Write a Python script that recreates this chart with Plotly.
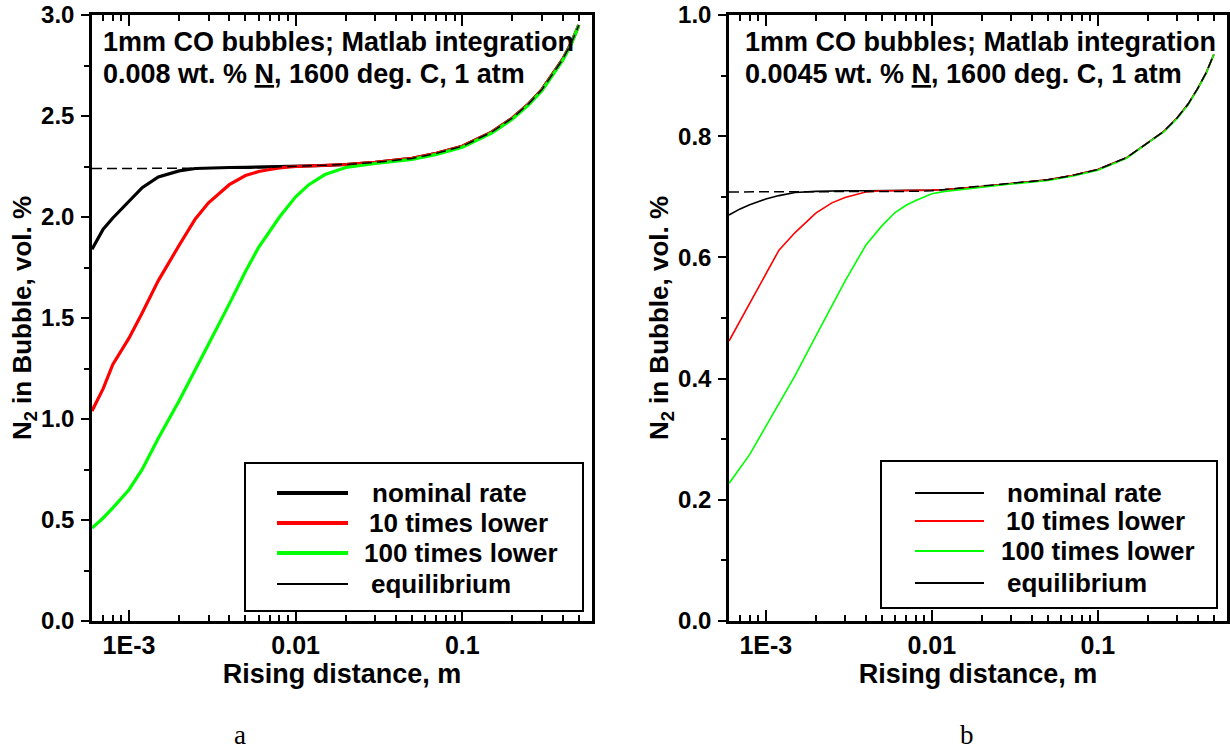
import math
import plotly.graph_objects as go

# ---------------- data ----------------
x_dist = [6e-4, 7e-4, 8e-4, 1e-3, 1.2e-3, 1.5e-3, 2e-3, 2.5e-3, 3e-3, 4e-3, 5e-3, 6e-3, 7e-3, 8e-3,
          0.01, 0.012, 0.015, 0.02, 0.03, 0.05, 0.07, 0.1, 0.15, 0.2, 0.25, 0.3, 0.35, 0.4, 0.45, 0.5]

# panel a: 0.008 wt.% N
nominal_a = [1.84, 1.94, 1.995, 2.08, 2.145, 2.198, 2.228, 2.24, 2.243, 2.245, 2.246, 2.247, 2.248, 2.249,
             2.25, 2.252, 2.255, 2.26, 2.27, 2.29, 2.315, 2.35, 2.42, 2.49, 2.56, 2.63, 2.71, 2.78, 2.86, 2.95]
ten_a = [1.04, 1.15, 1.27, 1.40, 1.525, 1.685, 1.86, 1.99, 2.07, 2.16, 2.205, 2.225, 2.235, 2.243,
         2.25, 2.252, 2.255, 2.26, 2.27, 2.29, 2.315, 2.35, 2.42, 2.49, 2.56, 2.63, 2.71, 2.78, 2.86, 2.95]
hundred_a = [0.46, 0.51, 0.56, 0.65, 0.75, 0.905, 1.09, 1.24, 1.37, 1.57, 1.73, 1.85, 1.93, 2.0,
             2.10, 2.16, 2.21, 2.245, 2.265, 2.285, 2.31, 2.345, 2.415, 2.485, 2.555, 2.625, 2.705, 2.775, 2.855, 2.95]
equil_a = [2.24, 2.24, 2.24, 2.24, 2.24, 2.24, 2.24, 2.24, 2.24, 2.24, 2.242, 2.244, 2.246, 2.248,
           2.25, 2.252, 2.255, 2.26, 2.27, 2.29, 2.315, 2.35, 2.42, 2.49, 2.56, 2.63, 2.71, 2.78, 2.86, 2.95]

# panel b: 0.0045 wt.% N
nominal_b = [0.670, 0.680, 0.687, 0.6965, 0.702, 0.707, 0.709, 0.71, 0.71, 0.71, 0.71, 0.71, 0.71, 0.71,
             0.711, 0.712, 0.714, 0.717, 0.722, 0.728, 0.735, 0.745, 0.765, 0.79, 0.808, 0.83, 0.853, 0.879, 0.905, 0.935]
ten_b = [0.462, 0.495, 0.523, 0.571, 0.612, 0.641, 0.673, 0.690, 0.699, 0.708, 0.710, 0.71, 0.71, 0.71,
         0.711, 0.712, 0.714, 0.717, 0.722, 0.728, 0.735, 0.745, 0.765, 0.79, 0.808, 0.83, 0.853, 0.879, 0.905, 0.935]
hundred_b = [0.227, 0.252, 0.275, 0.321, 0.358, 0.405, 0.47, 0.52, 0.561, 0.62, 0.652, 0.674, 0.686, 0.694,
             0.705, 0.709, 0.712, 0.716, 0.721, 0.727, 0.734, 0.744, 0.764, 0.789, 0.807, 0.829, 0.852, 0.878, 0.904, 0.935]
equil_b = [0.708, 0.708, 0.708, 0.708, 0.708, 0.708, 0.708, 0.708, 0.708, 0.708, 0.708, 0.708, 0.709, 0.709,
           0.71, 0.712, 0.714, 0.717, 0.722, 0.728, 0.735, 0.745, 0.765, 0.79, 0.808, 0.83, 0.853, 0.879, 0.905, 0.935]

series_names = ["nominal rate", "10 times lower", "100 times lower", "equilibrium"]
series_colors = ["#000000", "#ff0000", "#00ff00", "#000000"]

header_line1 = "1mm CO bubbles; Matlab integration"
header_line2 = ["0.008 wt. % <u>N</u>, 1600 deg. C, 1 atm", "0.0045 wt. % <u>N</u>, 1600 deg. C, 1 atm"]

x_tickvals = [1e-3, 0.01, 0.1]
x_ticktext = ["1E-3", "0.01", "0.1"]
x_minor = [7e-4, 8e-4, 9e-4, 2e-3, 3e-3, 4e-3, 5e-3, 6e-3, 7e-3, 8e-3, 9e-3,
           0.02, 0.03, 0.04, 0.05, 0.06, 0.07, 0.08, 0.09, 0.2, 0.3, 0.4, 0.5]
x_range = [6e-4, 0.6]

# ---------------- figure ----------------
W, H = 1230, 751
FONT = "Liberation Sans, Arial, sans-serif"
fig = go.Figure()

panels = [
    dict(xa="x", ya="y", data=[nominal_a, ten_a, hundred_a], eq=equil_a, width=3.2),
    dict(xa="x2", ya="y2", data=[nominal_b, ten_b, hundred_b], eq=equil_b, width=1.6),
]
for p in panels:
    for name, col, ys in zip(series_names[:3], series_colors[:3], p["data"]):
        fig.add_trace(go.Scatter(x=x_dist, y=ys, mode="lines", name=name, showlegend=False,
                                 line=dict(color=col, width=p["width"]),
                                 xaxis=p["xa"], yaxis=p["ya"]))
    fig.add_trace(go.Scatter(x=x_dist, y=p["eq"], mode="lines", name="equilibrium", showlegend=False,
                             line=dict(color="#000000", width=1.5, dash="10px,5px"),
                             xaxis=p["xa"], yaxis=p["ya"]))

def xax(domain, anchor):
    return dict(
        domain=domain, anchor=anchor, type="log",
        range=[math.log10(x_range[0]), math.log10(x_range[1])],
        tickvals=x_tickvals, ticktext=x_ticktext, ticks="inside", ticklen=11, tickwidth=2,
        tickcolor="black", minor=dict(ticks="inside", ticklen=6, tickwidth=2, tickcolor="black",
                                      tickvals=x_minor),
        showline=True, linewidth=2.5, linecolor="black", mirror="allticks", showgrid=False,
        zeroline=False, tickfont=dict(family=FONT, size=25, color="black", weight="bold"),
        ticklabelstandoff=0,
        title=dict(text="Rising distance, m", font=dict(family=FONT, size=27, color="black", weight="bold"),
                   standoff=2),
        automargin=False,
    )

def yax(anchor, rng, dtick, minor_dtick):
    return dict(
        anchor=anchor, range=rng, dtick=dtick, tick0=0, tickformat=".1f", ticks="outside", ticklen=8,
        tickwidth=2, tickcolor="black",
        minor=dict(ticks="outside", ticklen=5, tickwidth=2, tickcolor="black", dtick=minor_dtick, tick0=0),
        showline=True, linewidth=2.5, linecolor="black", mirror=True, showgrid=False, zeroline=False,
        tickfont=dict(family=FONT, size=24, color="black", weight="bold"), ticklabelstandoff=2,
        title=dict(text="N<sub>2</sub> in Bubble, vol. %",
                   font=dict(family=FONT, size=26, color="black", weight="bold"), standoff=2),
        automargin=False,
    )

def yax_right(overlay, anchor, rng, dtick, minor_dtick):
    # right-hand frame: ticks pointing into the plot, no labels
    return dict(
        overlaying=overlay, anchor=anchor, side="right", range=rng, dtick=dtick, tick0=0,
        ticks="inside", ticklen=8, tickwidth=2, tickcolor="black",
        minor=dict(ticks="inside", ticklen=5, tickwidth=2, tickcolor="black", dtick=minor_dtick, tick0=0),
        showticklabels=False, showline=False, showgrid=False, zeroline=False, automargin=False,
    )

fig.update_layout(
    width=W, height=H, template="none", paper_bgcolor="white", plot_bgcolor="white",
    margin=dict(l=0, r=0, t=15, b=130), showlegend=False,
    xaxis=xax([92 / W, 592 / W], "y"),
    yaxis=yax("x", [0, 3.0], 0.5, 0.25),
    xaxis2=xax([729 / W, 1227 / W], "y2"),
    yaxis2=yax("x2", [0, 1.0], 0.2, 0.1),
    yaxis3=yax_right("y", "x", [0, 3.0], 0.5, 0.25),
    yaxis4=yax_right("y2", "x2", [0, 1.0], 0.2, 0.1),
)

# header text inside each panel (two lines each)
for xr, yr, xx, l2 in [("x domain", "y domain", 0.018, header_line2[0]),
                       ("x2 domain", "y2 domain", 0.028, header_line2[1])]:
    for yy, txt in [(42, header_line1), (74, l2)]:
        fig.add_annotation(xref=xr, yref=yr, x=xx, y=(621 - yy) / 606, xanchor="left", yanchor="middle",
                           showarrow=False, align="left", text=txt,
                           font=dict(family=FONT, size=27, color="black", weight="bold"))

# legends (box + sample lines + labels) per panel
def add_legend(x0, x1, y0, y1, lx0, lx1, txs, rows, widths):
    fig.add_shape(type="rect", xref="paper", yref="paper", x0=x0 / W, x1=x1 / W,
                  y0=(621 - y1) / 606, y1=(621 - y0) / 606, line=dict(color="black", width=2),
                  fillcolor="white", layer="above")
    for name, col, ry, lw, tx in zip(series_names, series_colors, rows, widths, txs):
        yy = (621 - ry) / 606
        fig.add_shape(type="line", xref="paper", yref="paper", x0=lx0 / W, x1=lx1 / W, y0=yy, y1=yy,
                      line=dict(color=col, width=lw), layer="above")
        fig.add_annotation(xref="paper", yref="paper", x=tx / W, y=yy, xanchor="left", yanchor="middle",
                           showarrow=False, text=name,
                           font=dict(family=FONT, size=26, color="black", weight="bold"))

add_legend(245, 583, 463, 611, 277, 348, [370, 367, 362, 369], [493, 523, 553, 584], [4, 4, 4, 1.8])
add_legend(881, 1217, 461, 608, 915, 984, [1005, 1004, 999, 1005], [493, 521, 551, 583], [1.8, 1.8, 1.8, 1.8])

# panel letters
for lx, letter in [(240, "a"), (967, "b")]:
    fig.add_annotation(xref="paper", yref="paper", x=lx / W, y=(621 - 735) / 606, xanchor="center",
                       yanchor="middle", showarrow=False, text=letter,
                       font=dict(family="Liberation Serif, Times New Roman, serif", size=27, color="black"))

fig.write_html("out.html")
